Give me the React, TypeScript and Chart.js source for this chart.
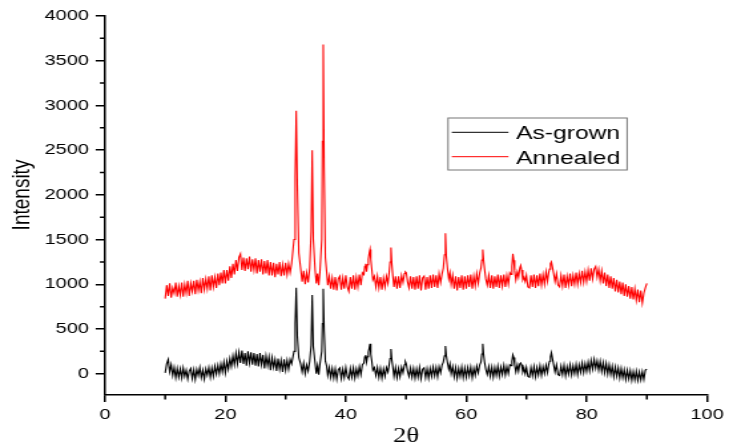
import React, { useEffect, useRef } from "react";
import { Chart, registerables } from "chart.js";

Chart.register(...registerables);

// 2θ positions (degrees)
const thetaDeg = [
  // 10 – 30.75
  10, 10.25, 10.5, 10.75, 11, 11.25, 11.5, 11.75, 12, 12.25,
  12.5, 12.75, 13, 13.25, 13.5, 13.75, 14, 14.25, 14.5, 14.75,
  15, 15.25, 15.5, 15.75, 16, 16.25, 16.5, 16.75, 17, 17.25,
  17.5, 17.75, 18, 18.25, 18.5, 18.75, 19, 19.25, 19.5, 19.75,
  20, 20.25, 20.5, 20.75, 21, 21.25, 21.5, 21.75, 22, 22.25,
  22.5, 22.75, 23, 23.25, 23.5, 23.75, 24, 24.25, 24.5, 24.75,
  25, 25.25, 25.5, 25.75, 26, 26.25, 26.5, 26.75, 27, 27.25,
  27.5, 27.75, 28, 28.25, 28.5, 28.75, 29, 29.25, 29.5, 29.75,
  30, 30.25, 30.5, 30.75,
  // 31 – 37.5
  31, 31.4, 31.6, 31.77, 31.95, 32.2, 32.5, 32.75, 33, 33.25,
  33.5, 33.75, 34, 34.25, 34.42, 34.6, 34.9, 35.1, 35.3, 35.5,
  35.7, 36, 36.12, 36.25, 36.4, 36.6, 36.8, 37, 37.25, 37.5,
  // 37.75 – 42.75
  37.75, 38, 38.25, 38.5, 38.75, 39, 39.25, 39.5, 39.75, 40,
  40.25, 40.5, 40.75, 41, 41.25, 41.5, 41.75, 42, 42.25, 42.5, 42.75,
  // 43 – 45
  43, 43.15, 43.3, 43.45, 43.6, 43.75, 43.9, 44.02, 44.15, 44.3, 44.5, 44.75, 45,
  // 45.25 – 51
  45.25, 45.5, 45.75, 46, 46.25, 46.5, 46.75, 47, 47.2, 47.35,
  47.5, 47.65, 47.8, 48, 48.25, 48.5, 48.75, 49, 49.25, 49.5,
  49.75, 49.9, 50.05, 50.25, 50.5, 50.75, 51,
  // 51.25 – 57.75
  51.25, 51.5, 51.75, 52, 52.25, 52.5, 52.75, 53, 53.25, 53.5,
  53.75, 54, 54.25, 54.5, 54.75, 55, 55.25, 55.5, 55.75,
  56, 56.2, 56.4, 56.55, 56.7, 56.9, 57.1, 57.3, 57.5, 57.75,
  // 58 – 63.75
  58, 58.25, 58.5, 58.75, 59, 59.25, 59.5, 59.75, 60, 60.25,
  60.5, 60.75, 61, 61.25, 61.5, 61.75, 62, 62.25,
  62.45, 62.6, 62.75, 62.9, 63.05, 63.25, 63.5, 63.75,
  // 64 – 70.25
  64, 64.25, 64.5, 64.75, 65, 65.25, 65.5, 65.75, 66, 66.25,
  66.5, 66.75, 67, 67.25,
  67.45, 67.6, 67.75, 67.9, 68.05, 68.25, 68.5, 68.7, 68.9, 69.05,
  69.2, 69.4, 69.6, 69.8, 70, 70.25,
  // 70.5 – 75.25
  70.5, 70.75, 71, 71.25, 71.5, 71.75, 72, 72.25, 72.5, 72.75,
  73, 73.25, 73.5,
  73.7, 73.85, 74, 74.15, 74.3, 74.5, 74.75, 75, 75.25,
  // 75.5 – 90
  75.5, 75.75, 76, 76.25, 76.5, 76.75, 77, 77.25, 77.5, 77.75,
  78, 78.25, 78.5, 78.75, 79, 79.25, 79.5, 79.75, 80, 80.25,
  80.5, 80.75, 81, 81.25, 81.5, 81.75, 82, 82.25, 82.5, 82.75,
  83, 83.25, 83.5, 83.75, 84, 84.25, 84.5, 84.75, 85, 85.25,
  85.5, 85.75, 86, 86.25, 86.5, 86.75, 87, 87.25, 87.5, 87.75,
  88, 88.25, 88.5, 88.75, 89, 89.25, 89.5, 89.75, 90,
];

// As-grown intensity
const asGrown = [
  10, 110, 160, 20, 100, -20, 70, -45, 60, -40,
  55, -50, 65, -30, 40, -60, 30, 60, -55, 45,
  -65, 50, -20, 70, -45, 40, -60, 55, -15, 70,
  -40, 65, -30, 85, -5, 95, 0, 110, 20, 130,
  10, 140, 50, 170, 80, 200, 100, 230, 110, 240,
  120, 260, 110, 230, 90, 250, 120, 240, 100, 230,
  90, 220, 80, 230, 100, 210, 60, 200, 90, 190,
  40, 180, 70, 160, 30, 170, 50, 150, 20, 160,
  40, 150, 50, 160,
  110, 250, 560, 960, 420, 180, 110, 20, 120, 0,
  100, 30, 140, 320, 880, 300, 120, 0, 90, -10,
  110, 250, 560, 950, 480, 140, 90, -20, 70, -40,
  60, -50, 55, -60, 45, 65, -55, 50, -45, 70,
  -30, -60, 60, -40, 65, -50, 55, -25, 80, -10, 100,
  120, 190, 210, 130, 190, 240, 290, 335, 220, 150, 40, 70, -20,
  70, -40, 60, -50, 55, -30, 70, 20, 100, 170,
  275, 150, 80, -30, 70, -45, 60, -35, 75, 10,
  100, 135, 110, 30, -30, 65, -40,
  60, -50, 55, -40, 70, -55, 50, 65, -45, 55,
  -50, 60, -30, 75, -25, 70, -35, 80, 10,
  100, 130, 200, 310, 200, 120, 50, 110, 0, 80,
  -35, 70, -50, 60, -30, 75, -45, 65, -40, 70,
  -25, 75, -45, 60, -20, 85, 10, 100,
  130, 220, 335, 210, 130, 50, -10, 80,
  -30, 75, -40, 70, -20, 85, -30, 75, -10, 95,
  -15, 80, 0, 100,
  90, 140, 210, 180, 100, 20, 100, 30, 110, 120,
  100, 20, 60, 0, 70, -30,
  -40, 70, -25, 80, -35, 70, -15, 90, -20, 80,
  0, 95, 10,
  100, 140, 190, 235, 180, 110, 20, 100, -10,
  -20, 85, -10, 95, -25, 80, -5, 100, -15, 90,
  0, 105, -10, 100, 15, 120, 10, 115, 25, 130,
  30, 150, 50, 160, 60, 145, 40, 140, 25, 125,
  10, 115, -5, 100, -10, 85, -35, 75, -30, 65,
  -50, 60, -45, 45, -65, 40, -60, 35, -75, 25,
  -70, 30, -75, 20, -70, 25, -65, 40, 50,
];

// Annealed intensity
const annealed = [
  840, 990, 870, 1010, 850, 960, 900, 1020, 860, 980,
  880, 1020, 860, 1000, 900, 1040, 870, 1010, 920, 1040,
  890, 1050, 930, 1030, 900, 1070, 940, 1060, 950, 1090,
  930, 1100, 970, 1080, 960, 1120, 990, 1130, 1010, 1160,
  1010, 1160, 1040, 1200, 1070, 1230, 1110, 1270, 1150, 1300,
  1340, 1160, 1300, 1150, 1290, 1170, 1310, 1140, 1280, 1160,
  1290, 1120, 1270, 1140, 1280, 1110, 1260, 1120, 1270, 1100,
  1250, 1100, 1240, 1080, 1230, 1110, 1250, 1090, 1220, 1100,
  1240, 1110, 1230, 1130,
  1230, 1500, 2200, 2940, 2100, 1350, 1180, 1030, 1150, 1000,
  1130, 1020, 1180, 1600, 2500, 1500, 1160, 1010, 1120, 990,
  1140, 1500, 2600, 3680, 2300, 1300, 1150, 990, 1090, 950,
  1070, 940, 1080, 930, 1060, 1090, 940, 1070, 950, 1100,
  970, 920, 1080, 950, 1100, 940, 1080, 970, 1110, 990, 1130,
  1110, 1200, 1230, 1140, 1220, 1280, 1350, 1390, 1280, 1180, 1050, 1090, 970,
  1090, 960, 1080, 940, 1070, 970, 1090, 1010, 1130, 1250,
  1410, 1220, 1100, 970, 1090, 950, 1090, 960, 1100, 1020,
  1120, 1140, 1130, 1030, 960, 1090, 950,
  1080, 940, 1090, 950, 1100, 930, 1070, 1090, 940, 1080,
  950, 1100, 960, 1110, 970, 1100, 960, 1120, 1020,
  1120, 1180, 1330, 1570, 1310, 1170, 1060, 1130, 1000, 1100,
  950, 1090, 930, 1080, 960, 1100, 940, 1090, 950, 1100,
  970, 1110, 950, 1090, 980, 1120, 1010, 1130,
  1180, 1270, 1390, 1260, 1170, 1060, 990, 1100,
  960, 1100, 950, 1090, 970, 1110, 960, 1100, 980, 1110,
  970, 1100, 1000, 1130,
  1110, 1200, 1340, 1270, 1150, 1050, 1140, 1080, 1180, 1210,
  1160, 1050, 1080, 1030, 1100, 970,
  960, 1100, 970, 1110, 960, 1100, 980, 1120, 990, 1110,
  1000, 1140, 1030,
  1130, 1170, 1230, 1250, 1200, 1130, 1030, 1120, 990,
  970, 1100, 980, 1110, 960, 1090, 990, 1120, 980, 1100,
  1000, 1130, 1000, 1120, 1020, 1150, 1020, 1140, 1030, 1160,
  1040, 1180, 1060, 1170, 1200, 1080, 1170, 1040, 1150, 1010,
  1130, 980, 1110, 960, 1090, 950, 1070, 920, 1050, 910,
  1030, 890, 1020, 870, 1000, 860, 980, 840, 970, 830,
  950, 820, 940, 800, 930, 790, 900, 960, 1010,
];

const seriesNames = ["As-grown", "Annealed"];
const seriesColors = ["#000000", "#ff0000"];
const yTickValues = [0, 500, 1000, 1500, 2000, 2500, 3000, 3500, 4000];
const xMinorTicks = [10, 30, 50, 70, 90];
const yMinorTicks = [250, 750, 1250, 1750, 2250, 2750, 3250, 3750];

const CANVAS_W = 548;
const CANVAS_H = 446;

const decorPlugin = {
  id: "decor",
  afterDraw(chart: any) {
    const ctx = chart.ctx;
    const xs = chart.scales.x;
    const ys = chart.scales.y;
    const area = chart.chartArea;
    ctx.save();
    ctx.strokeStyle = "#000";
    ctx.lineWidth = 1.5;
    ctx.beginPath();
    xMinorTicks.forEach((v) => {
      const px = xs.getPixelForValue(v);
      ctx.moveTo(px, area.bottom);
      ctx.lineTo(px, area.bottom + 4.5);
    });
    yMinorTicks.forEach((v) => {
      const py = ys.getPixelForValue(v);
      ctx.moveTo(area.left, py);
      ctx.lineTo(area.left - 3.8, py);
    });
    ctx.stroke();

    ctx.fillStyle = "#000";
    ctx.font = '20px "Liberation Serif", serif';
    ctx.textAlign = "center";
    ctx.textBaseline = "alphabetic";
    ctx.fillText("2\u03b8", (area.left + area.right) / 2, 442);

    ctx.save();
    ctx.translate(21.5, 195);
    ctx.rotate(-Math.PI / 2);
    ctx.font = '19px "Liberation Sans", Arial, sans-serif';
    ctx.textAlign = "center";
    ctx.textBaseline = "alphabetic";
    ctx.fillText("Intensity", 0, 0);
    ctx.restore();

    const bx = 336.8, by = 118, bw = 134.6, bh = 52;
    ctx.strokeStyle = "#777";
    ctx.lineWidth = 1;
    ctx.strokeRect(bx, by, bw, bh);
    const rows = [132.3, 156.7];
    ctx.font = '18.5px "Liberation Sans", Arial, sans-serif';
    ctx.textAlign = "left";
    chart.data.datasets.forEach((ds: any, i: number) => {
      ctx.strokeStyle = ds.borderColor;
      ctx.lineWidth = 1;
      ctx.beginPath();
      ctx.moveTo(339.6, rows[i]);
      ctx.lineTo(382.2, rows[i]);
      ctx.stroke();
      ctx.fillStyle = "#000";
      ctx.fillText(ds.label, 388, rows[i] + 7);
    });
    ctx.restore();
  },
};

export default function App() {
  const canvasRef = useRef<HTMLCanvasElement | null>(null);

  useEffect(() => {
    if (!canvasRef.current) return;
    const makeData = (vals: number[]) => thetaDeg.map((t, i) => ({ x: t, y: vals[i] }));
    const tickFont = { family: '"Liberation Sans", Arial, sans-serif', size: 15 };
    const chart = new Chart(canvasRef.current, {
      type: "line",
      data: {
        datasets: [
          {
            label: seriesNames[0],
            data: makeData(asGrown),
            borderColor: seriesColors[0],
            backgroundColor: seriesColors[0],
            borderWidth: 1.1,
            pointRadius: 0,
            tension: 0,
          },
          {
            label: seriesNames[1],
            data: makeData(annealed),
            borderColor: seriesColors[1],
            backgroundColor: seriesColors[1],
            borderWidth: 1.1,
            pointRadius: 0,
            tension: 0,
          },
        ],
      },
      options: {
        animation: false,
        responsive: false,
        layout: { padding: { top: 16, right: 12.7, bottom: 0, left: 0 } },
        plugins: { legend: { display: false }, tooltip: { enabled: false } },
        scales: {
          x: {
            type: "linear",
            min: 0,
            max: 100,
            ticks: { stepSize: 20, color: "#000", font: tickFont, padding: 4, maxRotation: 0 },
            grid: { drawOnChartArea: false, drawTicks: true, tickLength: 7, tickColor: "#000", lineWidth: 1.5 },
            border: { display: true, color: "#000", width: 1.5 },
            afterFit: (s: any) => {
              s.height = 51;
            },
          },
          y: {
            type: "linear",
            min: -238,
            max: 4000,
            ticks: {
              color: "#000",
              font: tickFont,
              padding: 5,
              callback: (v: any) => String(v),
            },
            afterBuildTicks: (s: any) => {
              s.ticks = yTickValues.map((v) => ({ value: v }));
            },
            grid: { drawOnChartArea: false, drawTicks: true, tickLength: 7, tickColor: "#000", lineWidth: 1.5 },
            border: { display: true, color: "#000", width: 1.5 },
            afterFit: (s: any) => {
              s.width = 78.9;
            },
          },
        },
      },
      plugins: [decorPlugin],
    } as any);
    return () => chart.destroy();
  }, []);

  return (
    <div style={{ position: "fixed", left: 0, top: 0, width: 729, height: 446, background: "#fff" }}>
      <canvas
        ref={canvasRef}
        width={CANVAS_W}
        height={CANVAS_H}
        style={{ width: "729px", height: "446px", display: "block" }}
      />
    </div>
  );
}
